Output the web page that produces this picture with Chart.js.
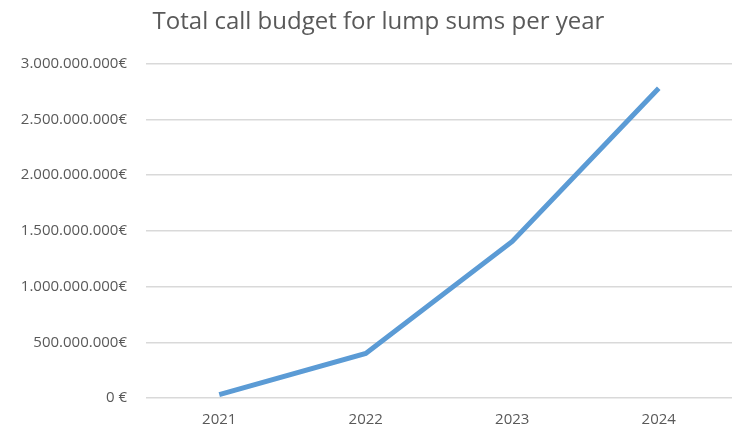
<!DOCTYPE html>
<html>
<head>
<meta charset="utf-8">
<script src="https://cdn.jsdelivr.net/npm/chart.js@4"></script>
<style>
  html, body { margin: 0; padding: 0; background: #fff; }
  #wrap { width: 733px; height: 426px; }
</style>
</head>
<body>
<div id="wrap"><canvas id="budgetChart"></canvas></div>
<script>
const years = ['2021', '2022', '2023', '2024'];
const callBudget = [30000000, 400000000, 1405000000, 2780000000];
const yMax = 3000000000;
const yStep = 500000000;

function euro(value) {
    if (value === 0) return '0 €';
    return value.toLocaleString('de-DE') + '€';
}

const ctx = document.getElementById('budgetChart').getContext('2d');
new Chart(ctx, {
    type: 'line',
    data: {
        labels: years,
        datasets: [{
            label: 'Total call budget',
            data: callBudget,
            borderColor: '#5b9bd5',
            backgroundColor: '#5b9bd5',
            borderWidth: 5,
            pointRadius: 0,
            pointHoverRadius: 0,
            tension: 0
        }]
    },
    options: {
        responsive: true,
        maintainAspectRatio: false,
        animation: false,
        layout: { padding: { left: 0, right: 1, top: 0, bottom: 0 } },
        plugins: {
            legend: { display: false },
            tooltip: { enabled: false },
            title: {
                display: true,
                // leading spaces push the centred title a little to the right, like the original
                text: '    Total call budget for lump sums per year',
                color: '#595959',
                font: { family: 'Open Sans', size: 24, weight: 'normal' },
                padding: { top: 8, bottom: 27 }
            }
        },
        scales: {
            x: {
                offset: true,
                afterFit: function(scale) { scale.height = 28; },
                grid: { display: false, drawTicks: false },
                border: { display: false },
                ticks: {
                    color: '#595959',
                    font: { family: 'Open Sans', size: 15 },
                    padding: 13
                }
            },
            y: {
                min: 0,
                max: yMax,
                afterFit: function(scale) { scale.width = 146; },
                grid: { color: '#d9d9d9', lineWidth: 1.5, drawTicks: false },
                border: { display: false },
                ticks: {
                    stepSize: yStep,
                    color: '#595959',
                    font: { family: 'Open Sans', size: 15 },
                    padding: 19,
                    callback: function(value) { return euro(value); }
                }
            }
        }
    }
});
</script>
</body>
</html>
